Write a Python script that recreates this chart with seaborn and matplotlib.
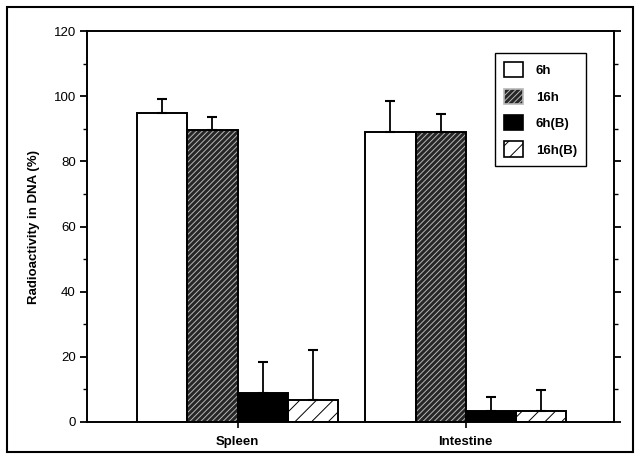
import matplotlib
matplotlib.use("Agg")
import matplotlib.pyplot as plt
import seaborn as sns
import pandas as pd
import numpy as np
from matplotlib.patches import Patch, Rectangle
from matplotlib.ticker import MultipleLocator

tissues = ["Spleen", "Intestine"]
groups = ["6h", "16h", "6h(B)", "16h(B)"]
spleen_vals = [94.7, 89.6, 8.8, 6.8]
intestine_vals = [88.9, 88.9, 3.4, 3.4]
spleen_err = [4.4, 4.1, 9.5, 15.3]
intestine_err = [9.6, 5.5, 4.4, 6.4]

rows = []
for t, vals, errs in [("Spleen", spleen_vals, spleen_err), ("Intestine", intestine_vals, intestine_err)]:
    for g, v, e in zip(groups, vals, errs):
        rows.append({"tissue": t, "group": g, "value": v, "err": e})
df = pd.DataFrame(rows)

sns.set_theme(style="ticks")
plt.rcParams["font.family"] = ["Liberation Sans", "DejaVu Sans"]
plt.rcParams["text.color"] = "black"
plt.rcParams["axes.labelcolor"] = "black"
plt.rcParams["xtick.color"] = "black"
plt.rcParams["ytick.color"] = "black"
plt.rcParams["hatch.linewidth"] = 0.7

fig = plt.figure(figsize=(6.4, 4.58), dpi=100)
ax = fig.add_axes([87/640, 1 - 422/458, (614-87)/640, (422-31)/458])

face = {"6h": "white", "16h": "#262626", "6h(B)": "black", "16h(B)": "white"}
hatch = {"6h": None, "16h": "//////", "6h(B)": None, "16h(B)": "//"}
hatchcol = {"6h": "black", "16h": "#b8b8b8", "6h(B)": "black", "16h(B)": "black"}

# layer 1: filled bars with hatch
sns.barplot(data=df, x="tissue", y="value", hue="group", order=tissues,
            hue_order=groups, width=0.88, gap=0, errorbar=None, ax=ax,
            legend=False)
patches1 = list(ax.patches)
# layer 2: outlines
sns.barplot(data=df, x="tissue", y="value", hue="group", order=tissues,
            hue_order=groups, width=0.88, gap=0, errorbar=None, ax=ax,
            legend=False, fill=False)
patches2 = [p for p in ax.patches if p not in patches1]

for i, p in enumerate(patches1):
    g = groups[i // len(tissues)]
    p.set_facecolor(face[g])
    p.set_edgecolor(hatchcol[g])
    p.set_linewidth(0)
    if hatch[g]:
        p.set_hatch(hatch[g])
for p in patches2:
    p.set_edgecolor("black")
    p.set_facecolor("none")
    p.set_linewidth(1.4)
    p.set_zorder(3)

# error bars (upper only)
xs, ys, es = [], [], []
for i, p in enumerate(patches1):
    g = groups[i // len(tissues)]
    t = tissues[i % len(tissues)]
    r = df[(df.tissue == t) & (df.group == g)].iloc[0]
    xs.append(p.get_x() + p.get_width() / 2)
    ys.append(r.value)
    es.append(r.err)
ax.errorbar(xs, ys, yerr=[np.zeros(len(es)), es], fmt="none", ecolor="black",
            elinewidth=1.3, capsize=3.5, capthick=1.5, zorder=2)

ax.set_ylim(0, 120)
ax.set_xlim(-0.66, 1.65)
ax.yaxis.set_major_locator(MultipleLocator(20))
ax.yaxis.set_minor_locator(MultipleLocator(10))
ax.tick_params(axis="y", which="major", direction="out", length=5, width=1.3,
               left=True, right=True, labelsize=9.5, pad=3)
ax.tick_params(axis="y", which="minor", direction="out", length=3, width=1.0,
               left=True, right=True)
ax.tick_params(axis="x", direction="out", length=4, width=1.2, labelsize=9.5, pad=6)
for lab in ax.get_xticklabels():
    lab.set_fontweight("bold")
for s in ax.spines.values():
    s.set_visible(True)
    s.set_linewidth(1.4)
    s.set_color("black")
ax.set_xlabel("")
ax.set_ylabel("Radioactivity in DNA (%)", fontsize=9.5, fontweight="bold", labelpad=10)

handles = []
for g in groups:
    handles.append(Patch(facecolor=face[g], edgecolor="black" if g != "16h" else "#b8b8b8",
                         hatch=hatch[g], linewidth=1.2, label=g))
leg = ax.legend(handles=handles, loc="upper right", bbox_to_anchor=(0.947, 0.944),
                frameon=True, fancybox=False, framealpha=1, edgecolor="black",
                prop={"weight": "bold", "size": 9.5}, labelspacing=0.85,
                handlelength=1.4, handleheight=1.4, handletextpad=1.0,
                borderpad=0.7, borderaxespad=0)
leg.get_frame().set_linewidth(1.0)

fig.patches.append(Rectangle((7/640, 1 - 452/458), (633-7)/640, (452-7)/458,
                             transform=fig.transFigure, fill=False,
                             edgecolor="black", linewidth=1.5))

fig.savefig("out.png", dpi=100)
